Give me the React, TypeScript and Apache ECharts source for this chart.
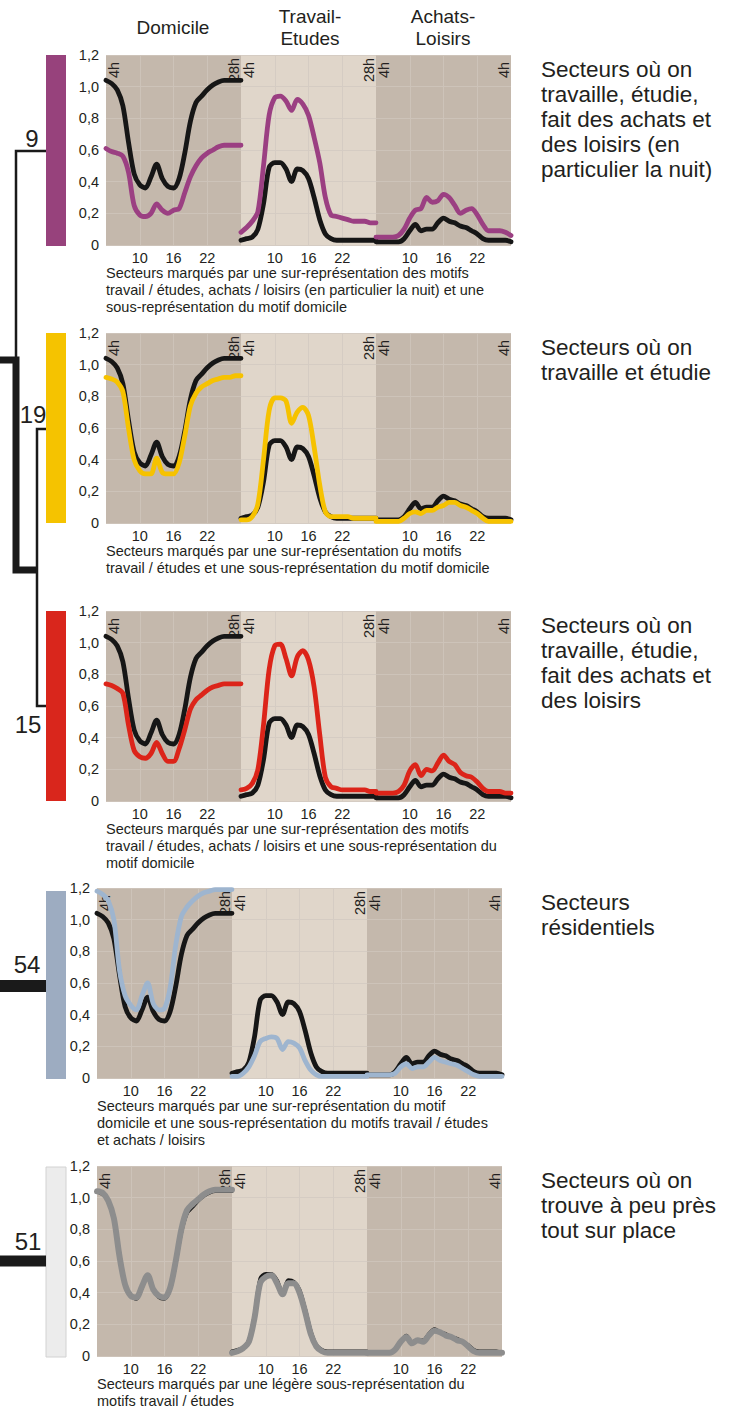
import React, { useEffect, useRef } from "react";
import * as echarts from "echarts";

// ---------- DATA ----------
const hours = [4, 5, 6, 7, 8, 9, 10, 11, 12, 13, 14, 15, 16, 17, 18, 19, 20, 21, 22, 23, 24, 25, 26, 27, 28];
const xTickLabels = ["10", "16", "22"];
const columnTitles = ["Domicile", "Travail-\nEtudes", "Achats-\nLoisirs"];
const edgeLabels = [["4h", "28h"], ["4h", "28h"], ["4h", "4h"]];
const clusterSizes = ["9", "19", "15", "54", "51"];
const clusterNames = [
  "Secteurs où on\ntravaille, étudie,\nfait des achats et\ndes loisirs (en\nparticulier la nuit)",
  "Secteurs où on\ntravaille et étudie",
  "Secteurs où on\ntravaille, étudie,\nfait des achats et\ndes loisirs",
  "Secteurs\nrésidentiels",
  "Secteurs où on\ntrouve à peu près\ntout sur place",
];
const clusterDescriptions = [
  "Secteurs marqués par une sur-représentation des motifs\ntravail / études, achats / loisirs (en particulier la nuit) et une\nsous-représentation du motif domicile",
  "Secteurs marqués par une sur-représentation du motifs\ntravail / études et une sous-représentation du motif domicile",
  "Secteurs marqués par une sur-représentation des motifs\ntravail / études, achats / loisirs et une sous-représentation du\nmotif domicile",
  "Secteurs marqués par une sur-représentation du motif\ndomicile et une sous-représentation du motifs travail / études\net achats / loisirs",
  "Secteurs marqués par une légère sous-représentation du\nmotifs travail / études",
];

// reference (all sectors) profiles
const referenceDomicile = [1.04, 1.02, 0.98, 0.88, 0.65, 0.45, 0.38, 0.36, 0.43, 0.51, 0.42, 0.37, 0.36, 0.42, 0.58, 0.78, 0.9, 0.94, 0.98, 1.01, 1.03, 1.04, 1.04, 1.04, 1.04];
const referenceTravail = [0.03, 0.04, 0.05, 0.1, 0.26, 0.49, 0.52, 0.52, 0.48, 0.4, 0.48, 0.47, 0.42, 0.3, 0.16, 0.07, 0.04, 0.03, 0.03, 0.03, 0.03, 0.03, 0.03, 0.03, 0.03];
const referenceAchats = [0.02, 0.02, 0.02, 0.02, 0.02, 0.04, 0.09, 0.13, 0.09, 0.1, 0.1, 0.14, 0.17, 0.15, 0.14, 0.12, 0.11, 0.09, 0.07, 0.04, 0.03, 0.03, 0.03, 0.03, 0.02];

// cluster 9 (purple)
const purpleDomicile = [0.61, 0.59, 0.58, 0.56, 0.46, 0.25, 0.19, 0.18, 0.2, 0.26, 0.22, 0.2, 0.22, 0.23, 0.33, 0.43, 0.5, 0.55, 0.58, 0.6, 0.62, 0.63, 0.63, 0.63, 0.63];
const purpleTravail = [0.08, 0.11, 0.15, 0.21, 0.5, 0.82, 0.93, 0.94, 0.91, 0.85, 0.92, 0.89, 0.82, 0.68, 0.52, 0.3, 0.19, 0.18, 0.17, 0.16, 0.15, 0.15, 0.15, 0.14, 0.14];
const purpleAchats = [0.05, 0.05, 0.05, 0.05, 0.06, 0.1, 0.17, 0.22, 0.23, 0.3, 0.27, 0.28, 0.32, 0.3, 0.25, 0.2, 0.22, 0.23, 0.19, 0.13, 0.09, 0.09, 0.09, 0.08, 0.06];

// cluster 19 (yellow)
const yellowDomicile = [0.92, 0.91, 0.89, 0.83, 0.6, 0.4, 0.33, 0.31, 0.31, 0.41, 0.32, 0.31, 0.31, 0.38, 0.55, 0.74, 0.82, 0.86, 0.88, 0.9, 0.91, 0.92, 0.92, 0.93, 0.93];
const yellowTravail = [0.02, 0.02, 0.04, 0.12, 0.4, 0.71, 0.79, 0.79, 0.77, 0.63, 0.7, 0.73, 0.68, 0.48, 0.24, 0.07, 0.04, 0.04, 0.04, 0.04, 0.03, 0.03, 0.03, 0.03, 0.03];
const yellowAchats = [0.01, 0.01, 0.01, 0.01, 0.01, 0.03, 0.06, 0.07, 0.06, 0.08, 0.08, 0.1, 0.11, 0.13, 0.13, 0.11, 0.1, 0.08, 0.06, 0.03, 0.01, 0.01, 0.01, 0.01, 0.01];

// cluster 15 (red)
const redDomicile = [0.74, 0.73, 0.71, 0.68, 0.48, 0.32, 0.28, 0.27, 0.3, 0.37, 0.3, 0.25, 0.25, 0.33, 0.45, 0.58, 0.64, 0.67, 0.7, 0.72, 0.73, 0.74, 0.74, 0.74, 0.74];
const redTravail = [0.07, 0.08, 0.11, 0.2, 0.48, 0.83, 0.98, 0.99, 0.9, 0.79, 0.91, 0.95, 0.89, 0.72, 0.42, 0.15, 0.09, 0.08, 0.07, 0.07, 0.07, 0.07, 0.07, 0.06, 0.06];
const redAchats = [0.05, 0.05, 0.05, 0.05, 0.06, 0.1, 0.19, 0.23, 0.16, 0.2, 0.19, 0.24, 0.29, 0.25, 0.23, 0.18, 0.16, 0.15, 0.12, 0.08, 0.06, 0.06, 0.06, 0.05, 0.05];

// cluster 54 (blue)
const blueDomicile = [1.18, 1.16, 1.12, 1.0, 0.68, 0.52, 0.46, 0.43, 0.52, 0.6, 0.47, 0.43, 0.44, 0.57, 0.84, 1.02, 1.08, 1.12, 1.15, 1.17, 1.18, 1.19, 1.19, 1.19, 1.19];
const blueTravail = [0.01, 0.01, 0.03, 0.07, 0.14, 0.23, 0.25, 0.26, 0.25, 0.18, 0.23, 0.22, 0.19, 0.11, 0.05, 0.02, 0.01, 0.01, 0.01, 0.01, 0.01, 0.01, 0.01, 0.01, 0.01];
const blueAchats = [0.02, 0.02, 0.02, 0.02, 0.02, 0.03, 0.07, 0.09, 0.06, 0.07, 0.07, 0.1, 0.13, 0.11, 0.1, 0.09, 0.08, 0.06, 0.04, 0.02, 0.01, 0.01, 0.01, 0.01, 0.01];

// cluster 51 (grey)
const greyDomicile = [1.04, 1.03, 0.98, 0.87, 0.63, 0.45, 0.38, 0.37, 0.44, 0.51, 0.42, 0.38, 0.37, 0.43, 0.6, 0.8, 0.92, 0.96, 0.99, 1.02, 1.04, 1.05, 1.05, 1.05, 1.05];
const greyTravail = [0.02, 0.03, 0.05, 0.09, 0.24, 0.46, 0.5, 0.51, 0.46, 0.39, 0.46, 0.46, 0.4, 0.28, 0.14, 0.06, 0.03, 0.02, 0.02, 0.02, 0.02, 0.02, 0.02, 0.02, 0.02];
const greyAchats = [0.02, 0.02, 0.02, 0.02, 0.02, 0.04, 0.09, 0.12, 0.08, 0.1, 0.09, 0.13, 0.16, 0.15, 0.13, 0.12, 0.1, 0.09, 0.06, 0.03, 0.02, 0.02, 0.02, 0.02, 0.02];

const referenceSeries = [referenceDomicile, referenceTravail, referenceAchats];
const clusterSeries = [
  [purpleDomicile, purpleTravail, purpleAchats],
  [yellowDomicile, yellowTravail, yellowAchats],
  [redDomicile, redTravail, redAchats],
  [blueDomicile, blueTravail, blueAchats],
  [greyDomicile, greyTravail, greyAchats],
];

// ---------- STYLE / LAYOUT ----------
const FONT = '"Liberation Sans", Arial, Helvetica, sans-serif';
const TEXT = "#231f20";
const LINE_COLORS = ["#9b3f82", "#f6c200", "#dc2419", "#9eb5cf", "#8d8d8d"];
const BAR_COLORS = ["#97427c", "#f5c300", "#d9261c", "#9dacc1", "#ececec"];
const BG_DARK = "#c4b8ac";
const BG_LIGHT = "#e0d6ca";
const GRID_DARK = "#cdc3b9";
const GRID_LIGHT = "#d5ccc3";
const ROW_TOPS = [55, 333, 611, 888, 1166];
const ROW_LEFTS = [106, 106, 106, 97, 97];
const PANEL_W = 135;
const PLOT_H = 190;
const BAR_SPANS = [[55, 246], [333, 523], [611, 801], [891, 1079], [1167, 1357]];
const NUM_POS = [[32, 138], [33, 414], [28, 724], [27, 964], [28, 1241]];
const HEADER_X = [173, 310, 443];

function buildOption() {
  const grid: any[] = [];
  const xAxis: any[] = [];
  const yAxis: any[] = [];
  const series: any[] = [];
  const graphic: any[] = [];
  const showTick = (_i: number, v: any) => xTickLabels.includes(String(v));

  for (let r = 0; r < 5; r++) {
    for (let p = 0; p < 3; p++) {
      const k = r * 3 + p;
      const left = ROW_LEFTS[r] + p * PANEL_W;
      const top = ROW_TOPS[r];
      const gridColor = p === 1 ? GRID_LIGHT : GRID_DARK;
      grid.push({
        left, top, width: PANEL_W, height: PLOT_H,
        show: true, backgroundColor: p === 1 ? BG_LIGHT : BG_DARK, borderWidth: 0,
      });
      xAxis.push({
        gridIndex: k, type: "category", data: hours.map(String), boundaryGap: false,
        axisLine: { show: false }, axisTick: { show: false },
        axisLabel: { interval: showTick, fontSize: 14.5, fontFamily: FONT, color: TEXT, margin: 5 },
        splitLine: { show: true, interval: showTick, lineStyle: { color: gridColor, width: 1 } },
      });
      yAxis.push({
        gridIndex: k, type: "value", min: 0, max: 1.2, interval: 0.2,
        axisLine: { show: false }, axisTick: { show: false },
        axisLabel: {
          show: p === 0, fontSize: 14.5, fontFamily: FONT, color: TEXT, margin: 7,
          formatter: (v: number) => (v === 0 ? "0" : v.toFixed(1).replace(".", ",")),
        },
        splitLine: { show: true, lineStyle: { color: gridColor, width: 1 } },
      });
      series.push({
        type: "line", xAxisIndex: k, yAxisIndex: k, data: referenceSeries[p],
        symbol: "none", smooth: 0.3, clip: false, silent: true, z: 3,
        lineStyle: { color: "#161616", width: r === 4 ? 3.5 : 4.8, cap: "round", join: "round" },
      });
      series.push({
        type: "line", xAxisIndex: k, yAxisIndex: k, data: clusterSeries[r][p],
        symbol: "none", smooth: 0.3, clip: false, silent: true, z: 4,
        lineStyle: { color: LINE_COLORS[r], width: r === 4 ? 6 : 4.8, cap: "round", join: "round" },
      });
      // rotated edge labels
      graphic.push({
        type: "text", x: left, y: top + 15, rotation: Math.PI / 2, z: 1, silent: true,
        style: { text: edgeLabels[p][0], fontSize: 14.5, fontFamily: FONT, fill: TEXT, align: "center", verticalAlign: "top" },
      });
      graphic.push({
        type: "text", x: left + PANEL_W, y: top + 15, rotation: Math.PI / 2, z: 1, silent: true,
        style: { text: edgeLabels[p][1], fontSize: 14.5, fontFamily: FONT, fill: TEXT, align: "center", verticalAlign: "bottom" },
      });
    }
    // cluster bar
    graphic.push({
      type: "rect", z: 5,
      shape: { x: 46, y: BAR_SPANS[r][0], width: 20, height: BAR_SPANS[r][1] - BAR_SPANS[r][0] },
      style: { fill: BAR_COLORS[r], stroke: r === 4 ? "#d2d2d2" : null, lineWidth: 1 },
    });
    // cluster size
    graphic.push({
      type: "text", x: NUM_POS[r][0], y: NUM_POS[r][1], z: 5,
      style: { text: clusterSizes[r], fontSize: 24, fontFamily: FONT, fill: TEXT, align: "center", verticalAlign: "middle" },
    });
    // right-hand name
    graphic.push({
      type: "text", x: 541, y: ROW_TOPS[r] + 1.5, z: 5,
      style: { text: clusterNames[r], fontSize: 22.5, lineHeight: 25, fontFamily: FONT, fill: TEXT, align: "left", verticalAlign: "top" },
    });
    // description
    graphic.push({
      type: "text", x: ROW_LEFTS[r], y: ROW_TOPS[r] + PLOT_H + 20, z: 5,
      style: { text: clusterDescriptions[r], fontSize: 14.5, lineHeight: 16.8, fontFamily: FONT, fill: TEXT, align: "left", verticalAlign: "top" },
    });
  }

  // column headers
  columnTitles.forEach((t, i) => {
    graphic.push({
      type: "text", x: HEADER_X[i], y: 27.5, z: 5,
      style: { text: t, fontSize: 19, lineHeight: 22, fontFamily: FONT, fill: TEXT, align: "center", verticalAlign: "middle" },
    });
  });

  // dendrogram
  const dendro = (points: number[][], w: number) => ({
    type: "polyline", z: 5, shape: { points },
    style: { stroke: "#1a1a1a", lineWidth: w, fill: "none", lineJoin: "miter", lineCap: "butt" },
  });
  graphic.push(dendro([[46, 151], [16, 151], [16, 360]], 2.5));
  graphic.push(dendro([[0, 360], [16, 360], [16, 570], [38, 570]], 7));
  graphic.push(dendro([[46, 429], [37, 429], [37, 706], [46, 706]], 2.5));
  graphic.push(dendro([[0, 986], [46, 986]], 12));
  graphic.push(dendro([[0, 1261], [46, 1261]], 11));

  return {
    animation: false,
    backgroundColor: "#ffffff",
    grid, xAxis, yAxis, series, graphic,
  };
}

export default function App() {
  const ref = useRef<HTMLDivElement>(null);
  useEffect(() => {
    if (!ref.current) return;
    const chart = echarts.init(ref.current, undefined, { renderer: "svg" });
    chart.setOption(buildOption() as any);
    return () => chart.dispose();
  }, []);
  return (
    <div
      ref={ref}
      style={{ position: "absolute", left: 0, top: 0, width: 737, height: 1410, background: "#fff" }}
    />
  );
}
